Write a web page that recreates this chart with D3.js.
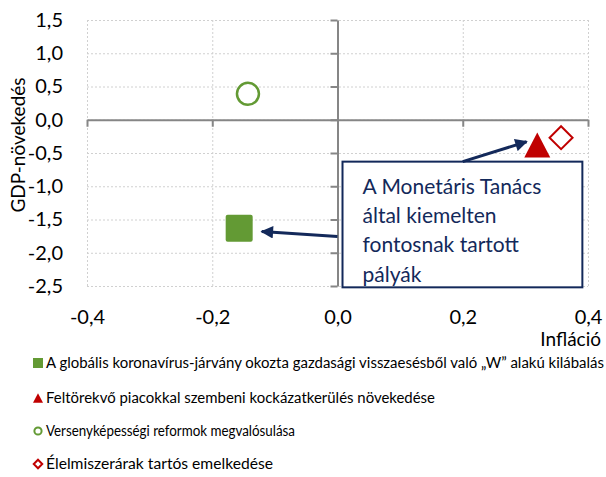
<!DOCTYPE html>
<html><head><meta charset="utf-8">
<script src="https://cdn.jsdelivr.net/npm/d3@7"></script>
<style>
html,body{margin:0;padding:0;background:#fff;}
svg{display:block;font-family:Lato,"Open Sans",sans-serif;}
</style></head>
<body>
<svg id="chart" width="606" height="477"></svg>
<script>
// ---- data ----
const seriesNames = [
  "A globális koronavírus-járvány okozta gazdasági visszaesésből való „W” alakú kilábalás",
  "Feltörekvő piacokkal szembeni kockázatkerülés növekedése",
  "Versenyképességi reformok megvalósulása",
  "Élelmiszerárak tartós emelkedése"
];
const inflation = [-0.157, 0.319, -0.143, 0.357];
const gdpGrowth = [-1.63, -0.38, 0.39, -0.27];
const xTicks = [-0.4, -0.2, 0.0, 0.2, 0.4];
const yTicks = [1.5, 1.0, 0.5, 0.0, -0.5, -1.0, -1.5, -2.0, -2.5];
const xTitle = "Infláció";
const yTitle = "GDP-növekedés";
const noteLines = ["A Monetáris Tanács", "által kiemelten", "fontosnak tartott", "pályák"];
// annotation box & arrows in data coordinates
const noteBox = {x0: 0.008, x1: 0.391, y0: -0.63, y1: -2.52};
const arrows = [
  {from: [0.2, -0.63], to: [0.302, -0.33]},
  {from: [0.0, -1.755], to: [-0.121, -1.68]}
];

// ---- style ----
const green = "#639a34", red = "#c00000", navy = "#13295a", axisGray = "#868686";
const svg = d3.select("#chart");
const x = d3.scaleLinear().domain([-0.4, 0.4]).range([87, 588]);
const y = d3.scaleLinear().domain([-2.5, 1.5]).range([286, 20]);
const fmt = d => d3.format(".1f")(d).replace(".", ",").replace("\u2212", "-");

// gridlines
svg.append("g").attr("transform", `translate(0,${y(-2.5)})`)
  .call(d3.axisBottom(x).tickValues(xTicks).tickSize(-(y(-2.5) - y(1.5))).tickFormat(""))
  .call(g => { g.select(".domain").remove();
    g.selectAll("line").attr("stroke", "#d0d0d0").attr("stroke-dasharray", "2,2"); });
svg.append("g").attr("transform", `translate(${x(-0.4)},0)`)
  .call(d3.axisLeft(y).tickValues(yTicks).tickSize(-(x(0.4) - x(-0.4))).tickFormat(""))
  .call(g => { g.select(".domain").remove();
    g.selectAll("line").attr("stroke", "#d0d0d0").attr("stroke-dasharray", "2,2"); });

// axis lines through zero
svg.append("g").attr("transform", `translate(0,${y(0)})`)
  .call(d3.axisBottom(x).tickValues(xTicks).tickSize(7).tickSizeOuter(0).tickFormat(""))
  .call(g => { g.selectAll("line,path").attr("stroke", axisGray).attr("stroke-width", 2); });
svg.append("g").attr("transform", `translate(${x(0)},0)`)
  .call(d3.axisLeft(y).tickValues(yTicks).tickSize(7).tickSizeOuter(0).tickFormat(""))
  .call(g => { g.selectAll("line,path").attr("stroke", axisGray).attr("stroke-width", 2); });

// tick labels
svg.append("g").attr("transform", `translate(0,${y(-2.5)})`)
  .call(d3.axisBottom(x).tickValues(xTicks).tickSize(0).tickPadding(24).tickFormat(fmt))
  .call(g => { g.select(".domain").remove();
    g.selectAll("text").attr("font-family", "Lato").attr("font-size", 20).attr("fill", "#000"); });
svg.append("g").attr("transform", `translate(${x(-0.4)},0)`)
  .call(d3.axisLeft(y).tickValues(yTicks).tickSize(0).tickPadding(24).tickFormat(fmt))
  .call(g => { g.select(".domain").remove();
    g.selectAll("text").attr("font-family", "Lato").attr("font-size", 20).attr("fill", "#000"); });

// axis titles
svg.append("text").attr("x", 601).attr("y", 346).attr("text-anchor", "end")
  .attr("font-size", 19).attr("fill", "#000").text(xTitle);
svg.append("text").attr("transform", "translate(25,145) rotate(-90)").attr("text-anchor", "middle")
  .attr("font-size", 19).attr("fill", "#000").text(yTitle);

// annotation box
svg.append("rect").attr("x", x(noteBox.x0)).attr("y", y(noteBox.y0))
  .attr("width", x(noteBox.x1) - x(noteBox.x0)).attr("height", y(noteBox.y1) - y(noteBox.y0))
  .attr("fill", "#fff").attr("stroke", navy).attr("stroke-width", 2);
svg.append("text").attr("font-size", 21).attr("fill", navy)
  .selectAll("tspan").data(noteLines).join("tspan")
  .attr("x", x(noteBox.x0) + 20).attr("y", (d, i) => y(noteBox.y0) + 32 + i * 29.3).text(d => d);

// arrows
svg.append("defs").append("marker").attr("id", "ah").attr("viewBox", "0 0 10 10")
  .attr("refX", 9).attr("refY", 5).attr("markerWidth", 5).attr("markerHeight", 4.2)
  .attr("orient", "auto").attr("markerUnits", "strokeWidth")
  .append("path").attr("d", "M0,0 L10,5 L0,10 Z").attr("fill", navy);
svg.selectAll(".arrow").data(arrows).join("line").attr("class", "arrow")
  .attr("x1", d => x(d.from[0])).attr("y1", d => y(d.from[1]))
  .attr("x2", d => x(d.to[0])).attr("y2", d => y(d.to[1]))
  .attr("stroke", navy).attr("stroke-width", 3).attr("marker-end", "url(#ah)");

// marker shapes
function shape(kind, s) {
  if (kind === 0) return `M${-s/2},${-s/2}h${s}v${s}h${-s}Z`;
  if (kind === 1) return `M0,${-s*0.48}L${s/2},${s*0.48}L${-s/2},${s*0.48}Z`;
  if (kind === 3) return `M0,${-s/2}L${s/2},0L0,${s/2}L${-s/2},0Z`;
  return null;
}
const pts = seriesNames.map((n, i) => ({name: n, k: i, x: inflation[i], y: gdpGrowth[i]}));
const mk = svg.append("g").selectAll("g").data(pts).join("g")
  .attr("transform", d => `translate(${x(d.x)},${y(d.y)})`);
mk.each(function(d) {
  const g = d3.select(this);
  if (d.k === 0) g.append("rect").attr("x", -13.5).attr("y", -13.5).attr("width", 27).attr("height", 27)
    .attr("rx", 2).attr("fill", green);
  else if (d.k === 1) g.append("path").attr("d", shape(1, 26)).attr("fill", red);
  else if (d.k === 2) g.append("circle").attr("r", 11).attr("fill", "#fff").attr("stroke", green).attr("stroke-width", 2.5);
  else g.append("path").attr("d", shape(3, 23)).attr("fill", "#fff").attr("stroke", red).attr("stroke-width", 2);
});

// legend
const legY = [363, 398, 431, 464];
const legW = [558, 389, 249, 227];
const lg = svg.append("g").selectAll("g").data(pts).join("g")
  .attr("transform", (d, i) => `translate(38,${legY[i]})`);
lg.each(function(d) {
  const g = d3.select(this);
  if (d.k === 0) g.append("rect").attr("x", -5).attr("y", -5).attr("width", 10).attr("height", 10).attr("fill", green);
  else if (d.k === 1) g.append("path").attr("d", shape(1, 10)).attr("fill", red);
  else if (d.k === 2) g.append("circle").attr("r", 3.6).attr("fill", "#fff").attr("stroke", green).attr("stroke-width", 2);
  else g.append("path").attr("d", shape(3, 8.5)).attr("fill", "#fff").attr("stroke", red).attr("stroke-width", 2);
});
lg.append("text").attr("x", 8).attr("y", 5).attr("font-size", 14.5).attr("fill", "#000")
  .attr("textLength", (d, i) => legW[i]).attr("lengthAdjust", "spacingAndGlyphs")
  .text(d => d.name);
</script>
</body></html>
